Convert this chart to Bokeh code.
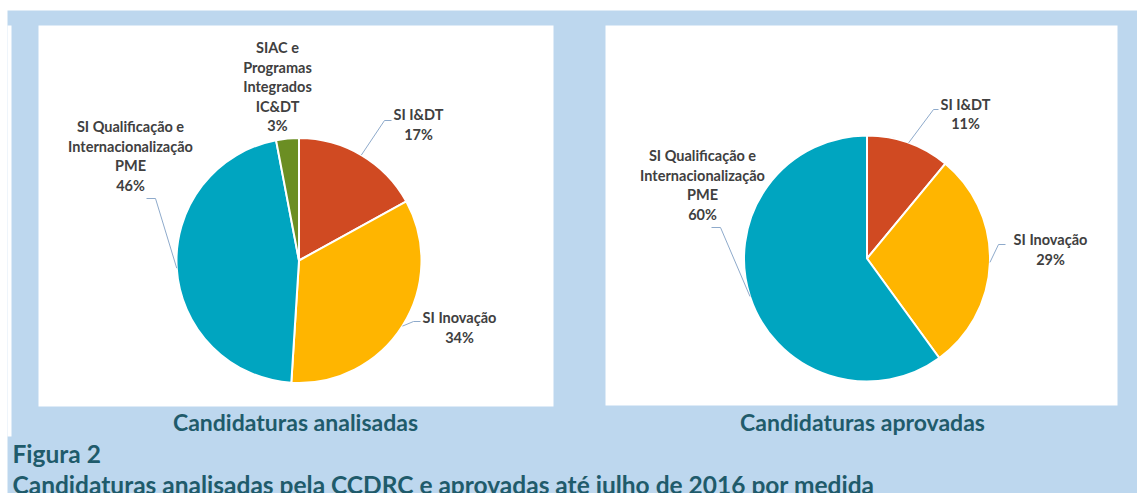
from bokeh.plotting import figure
from bokeh.models import Range1d
from bokeh.core.properties import value
from bokeh.embed import file_html
from bokeh.resources import INLINE
import numpy as np

# ---------------- data ----------------
left_categories = ["SI I&DT", "SI Inovação",
                   "SI Qualificação e\nInternacionalização\nPME",
                   "SIAC e\nProgramas\nIntegrados\nIC&DT"]
left_values = [17, 34, 46, 3]
right_categories = ["SI I&DT", "SI Inovação",
                    "SI Qualificação e\nInternacionalização\nPME"]
right_values = [11, 29, 60]
left_title = "Candidaturas analisadas"
right_title = "Candidaturas aprovadas"
figure_label = "Figura 2"
figure_caption = "Candidaturas analisadas pela CCDRC e aprovadas até julho de 2016 por medida"

# ---------------- styles / layout ----------------
slice_colors = {"SI I&DT": "#D04A22", "SI Inovação": "#FFB500",
                "SI Qualificação e\nInternacionalização\nPME": "#00A5C0",
                "SIAC e\nProgramas\nIntegrados\nIC&DT": "#6B8E23"}
BLUE = "#BDD7EE"
TEAL_TXT = "#1F5B6B"
LABEL_TXT = "#404040"
LEADER = "#8EAACB"
FONT = "Lato"

W, H = 1137, 493
def Y(py):
    return H - py

p = figure(width=W, height=H, output_backend="svg", toolbar_location=None,
           x_range=Range1d(0, W), y_range=Range1d(0, H),
           min_border=0, background_fill_color="white", border_fill_color="white")
p.axis.visible = False
p.grid.visible = False
p.outline_line_color = None

# background
p.quad(left=[7], right=[W], bottom=[Y(H)], top=[Y(10)], fill_color=BLUE, line_color=None)
p.quad(left=[7], right=[11], bottom=[Y(436)], top=[Y(25)], fill_color="white", line_color=None)
p.quad(left=[38, 605], right=[553, 1117], bottom=[Y(406), Y(405)], top=[Y(25), Y(25)],
       fill_color="white", line_color=None)

def draw_pie(cats, vals, cx, cy, r, label_pos, leaders):
    vals = np.array(vals, dtype=float)
    frac = vals / vals.sum()
    cum = np.concatenate([[0], np.cumsum(frac)])
    starts = np.pi / 2 - 2 * np.pi * cum[:-1]
    ends = np.pi / 2 - 2 * np.pi * cum[1:]
    p.wedge(x=cx, y=Y(cy), radius=r, start_angle=starts, end_angle=ends,
            direction="clock", fill_color=[slice_colors[c] for c in cats],
            line_color="white", line_width=2)
    mids = (cum[:-1] + cum[1:]) / 2 * 2 * np.pi
    sp = 19.5
    for i, c in enumerate(cats):
        lines = c.split("\n") + [f"{int(vals[i])}%"]
        lx, lyc = label_pos[c]
        n = len(lines)
        ys = [Y(lyc - (n - 1) / 2 * sp + k * sp) for k in range(n)]
        p.text(x=[lx] * n, y=ys, text=lines, text_align="center", text_baseline="middle",
               text_font=value(FONT), text_font_style="bold", text_font_size="14.5px",
               text_color=LABEL_TXT)
        if c in leaders:
            (ax, ay), ex = leaders[c]
            px = cx + r * np.sin(mids[i])
            py = cy - r * np.cos(mids[i])
            p.line(x=[ax, ex, px], y=[Y(ay), Y(ay), Y(py)], line_color=LEADER, line_width=1)

draw_pie(left_categories, left_values, 298.5, 260, 122.5,
         {left_categories[0]: (418, 124), left_categories[1]: (459, 327),
          left_categories[2]: (130, 155.5), left_categories[3]: (277, 86)},
         {left_categories[0]: ((391, 120), 384),
          left_categories[1]: ((420, 321), 413),
          left_categories[2]: ((146, 198), 155)})

draw_pie(right_categories, right_values, 866.5, 258, 123,
         {right_categories[0]: (965, 113.5), right_categories[1]: (1050, 249),
          right_categories[2]: (702, 184.5)},
         {right_categories[0]: ((938, 109), 933),
          right_categories[1]: ((1005, 244), 998),
          right_categories[2]: ((711, 227), 720)})

# captions
p.text(x=[295, 862], y=[Y(421), Y(421)], text=[left_title, right_title],
       text_align="center", text_baseline="middle", text_font=value(FONT),
       text_font_style="bold", text_font_size="23px", text_color=TEAL_TXT)
p.text(x=[12, 12], y=[Y(453), Y(484)], text=[figure_label, figure_caption],
       text_align="left", text_baseline="middle", text_font=value(FONT),
       text_font_style="bold", text_font_size="24.5px", text_color=TEAL_TXT)

open("out.html", "w").write(file_html(p, INLINE))
